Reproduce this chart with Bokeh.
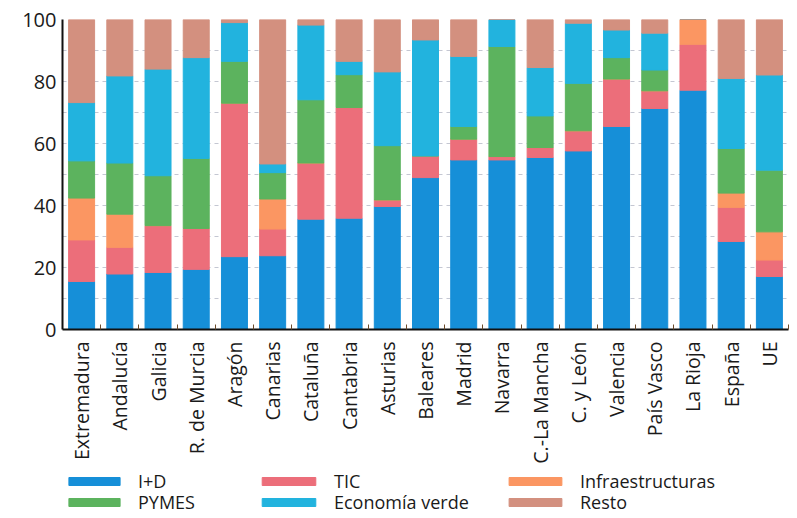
from math import pi
from bokeh.plotting import figure
from bokeh.layouts import column
from bokeh.models import ColumnDataSource, FixedTicker, Legend, LegendItem, Range1d
from bokeh.embed import file_html
from bokeh.resources import INLINE

regions = ["Extremadura", "Andalucía", "Galicia", "R. de Murcia", "Aragón", "Canarias",
           "Cataluña", "Cantabria", "Asturias", "Baleares", "Madrid", "Navarra",
           "C.-La Mancha", "C. y León", "Valencia", "País Vasco", "La Rioja", "España", "UE"]

i_d = [15.5, 17.9, 18.4, 19.4, 23.5, 23.8, 35.6, 35.9, 39.7, 49.0, 54.7, 54.7, 55.5, 57.6, 65.5, 71.3, 77.2, 28.4, 17.1]
tic = [13.4, 8.6, 15.1, 13.2, 49.5, 8.6, 18.1, 35.7, 2.1, 7.0, 6.7, 1.1, 3.2, 6.5, 15.3, 5.7, 14.8, 11.0, 5.3]
infraestructuras = [13.5, 10.7, 0, 0, 0, 9.7, 0, 0, 0, 0, 0, 0, 0, 0, 0, 0, 8.0, 4.6, 9.1]
pymes = [12.0, 16.5, 16.1, 22.6, 13.5, 8.5, 20.4, 10.6, 17.5, 0, 4.1, 35.5, 10.2, 15.3, 6.9, 6.7, 0, 14.4, 19.9]
economia_verde = [18.8, 28.1, 34.4, 32.5, 12.5, 2.8, 24.1, 4.3, 23.8, 37.4, 22.6, 8.7, 15.6, 19.4, 8.9, 11.9, 0, 22.6, 30.7]
resto = [26.8, 18.2, 16.0, 12.3, 1.0, 46.6, 1.8, 13.5, 16.9, 6.6, 11.9, 0, 15.5, 1.2, 3.4, 4.4, 0, 19.0, 17.9]

series_keys = ["i_d", "tic", "infra", "pymes", "eco", "resto"]
series_labels = ["I+D", "TIC", "Infraestructuras", "PYMES", "Economía verde", "Resto"]
series_colors = ["#168fd8", "#ec6e7a", "#fb9662", "#5cb35e", "#22b3de", "#d3907f"]

y_ticks = [0, 20, 40, 60, 80, 100]
grid_ticks = [10, 20, 30, 40, 50, 60, 70, 80, 90, 100]

xs = list(range(len(regions)))
src = ColumnDataSource(dict(x=xs, i_d=i_d, tic=tic, infra=infraestructuras,
                            pymes=pymes, eco=economia_verde, resto=resto))

FONT = "Open Sans"
TXT = "#1a1a1a"

p = figure(frame_width=726, frame_height=310, output_backend="svg", toolbar_location=None,
           x_range=Range1d(-0.5, len(regions) - 0.5), y_range=Range1d(0, 100),
           min_border_left=62, min_border_right=1, min_border_top=19, min_border_bottom=128)

rs = p.vbar_stack(series_keys, x="x", width=0.68, color=series_colors, source=src)

p.outline_line_color = None
p.xgrid.visible = False
p.ygrid.ticker = FixedTicker(ticks=grid_ticks)
p.ygrid.grid_line_color = "#c4c7d2"
p.ygrid.grid_line_dash = "4 4"
p.ygrid.grid_line_width = 1

# y axis
p.yaxis.ticker = FixedTicker(ticks=y_ticks)
p.yaxis.major_tick_line_color = None
p.yaxis.major_tick_out = 0
p.yaxis.major_tick_in = 0
p.yaxis.minor_tick_line_color = None
p.yaxis.minor_tick_out = 0
p.yaxis.minor_tick_in = 0
p.yaxis.axis_line_color = "#111111"
p.yaxis.axis_line_width = 2
p.yaxis.major_label_text_font = FONT
p.yaxis.major_label_text_font_size = "20px"
p.yaxis.major_label_text_color = TXT
p.yaxis.major_label_standoff = 6

# x axis
p.xaxis.ticker = FixedTicker(ticks=xs, minor_ticks=[v + 0.5 for v in xs])
p.xaxis.major_label_overrides = {v: name for v, name in zip(xs, regions)}
p.xaxis.major_label_orientation = pi / 2
p.xaxis.major_tick_line_color = None
p.xaxis.major_tick_out = 0
p.xaxis.major_tick_in = 0
p.xaxis.minor_tick_in = 5
p.xaxis.minor_tick_out = 0
p.xaxis.minor_tick_line_color = "#6b4a2a"
p.xaxis.axis_line_color = "#111111"
p.xaxis.axis_line_width = 2
p.xaxis.major_label_text_font = FONT
p.xaxis.major_label_text_font_size = "19.5px"
p.xaxis.major_label_text_color = TXT
p.xaxis.major_label_standoff = 12

# legend figure below the chart: one legend per entry, laid out 3 columns x 2 rows
lf = figure(width=789, height=50, output_backend="svg", toolbar_location=None,
            x_range=Range1d(0, 1), y_range=Range1d(0, 1),
            min_border_left=62, min_border_right=1, min_border_top=0, min_border_bottom=0,
            outline_line_color=None)
lf.axis.visible = False
lf.grid.visible = False
lrs = lf.vbar_stack(series_keys, x="x", width=0.68, color=series_colors, source=src)
for r in lrs:
    r.visible = False

col_x = [0, 193, 440]
col_glyph = [64, 67, 66]
row_y = [23, 2]
for k in range(6):
    c, rw = k % 3, k // 3
    lg = Legend(items=[LegendItem(label=series_labels[k], renderers=[lrs[k]])],
                location=(col_x[c], row_y[rw]),
                glyph_width=col_glyph[c], glyph_height=10,
                label_text_font=FONT, label_text_font_size="18px", label_text_color=TXT,
                label_height=20, spacing=0, padding=0, margin=0,
                border_line_color=None, background_fill_alpha=0,
                label_standoff=12)
    lf.add_layout(lg, "center")

layout = column(p, lf, spacing=0)
open("out.html", "w").write(file_html(layout, INLINE))
